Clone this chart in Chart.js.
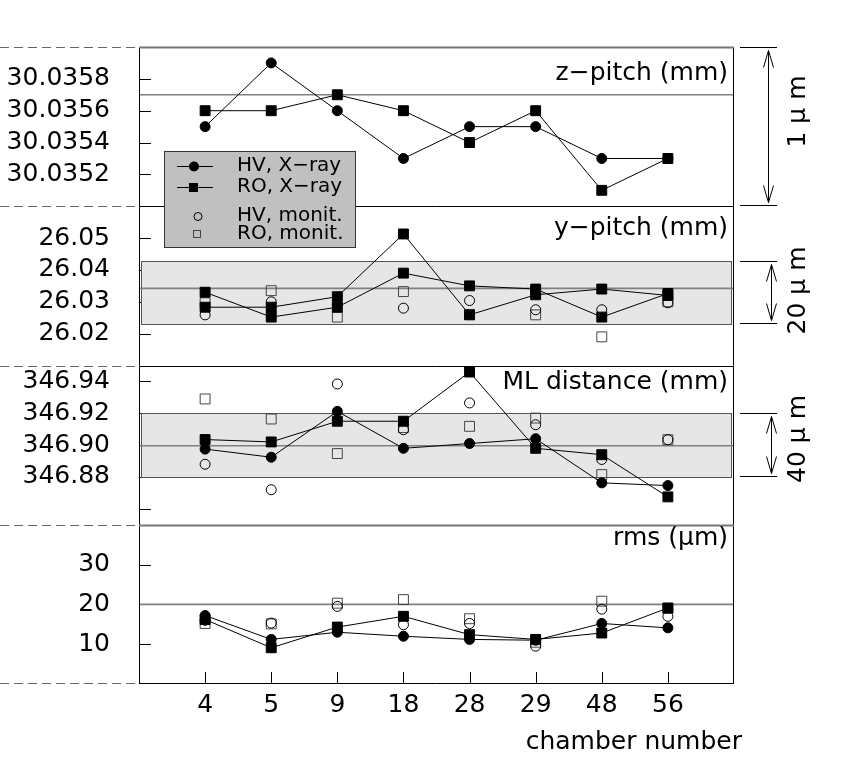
<!DOCTYPE html>
<html>
<head>
<meta charset="utf-8">
<script src="https://cdn.jsdelivr.net/npm/chart.js@4.4.1/dist/chart.umd.min.js"></script>
<style>
  html, body { margin: 0; padding: 0; background: #fff; }
  #wrap { width: 855px; height: 771px; }
</style>
</head>
<body>
<div id="wrap"><canvas id="chart" width="855" height="771"></canvas></div>
<script>
// chamber numbers along the x axis
const chambers = ['4', '5', '9', '18', '28', '29', '48', '56'];

// z-pitch (mm)
const zTicks = [30.0352, 30.0354, 30.0356, 30.0358];
const zTickLabels = ['30.0352', '30.0354', '30.0356', '30.0358'];
const zPitchHV = [30.0355, 30.0359, 30.0356, 30.0353, 30.0355, 30.0355, 30.0353, 30.0353];
const zPitchRO = [30.0356, 30.0356, 30.0357, 30.0356, 30.0354, 30.0356, 30.0351, 30.0353];
const zPitchMean = 30.0357;

// y-pitch (mm)
const yTicks = [26.02, 26.03, 26.04, 26.05];
const yTickLabels = ['26.02', '26.03', '26.04', '26.05'];
const yPitchHV = [26.0330, 26.0252, 26.0283, 26.0390, 26.0350, 26.0340, 26.0252, 26.0326];
const yPitchRO = [26.0283, 26.0283, 26.0316, 26.0513, 26.0259, 26.0322, 26.0340, 26.0320];
const yPitchHVMon = [26.0259, 26.0300, 26.0290, 26.0280, 26.0304, 26.0275, 26.0275, 26.0297];
const yPitchROMon = [26.0297, 26.0335, 26.0252, 26.0332, 26.0260, 26.0259, 26.0190, 26.0300];
const yPitchMean = 26.0342;
const yPitchBand = [26.0230, 26.0428];

// ML distance (mm)
const mlTicks = [346.86, 346.88, 346.90, 346.92, 346.94];
const mlTickLabels = ['', '346.88', '346.90', '346.92', '346.94'];
const mlHV = [346.8975, 346.8924, 346.9212, 346.8980, 346.9010, 346.9040, 346.8763, 346.8746];
const mlRO = [346.9035, 346.9020, 346.9150, 346.9150, 346.9459, 346.8980, 346.8940, 346.8675];
const mlHVMon = [346.8880, 346.8720, 346.9384, 346.9097, 346.9265, 346.9128, 346.8910, 346.9034];
const mlROMon = [346.9290, 346.9164, 346.8947, 346.9110, 346.9118, 346.9170, 346.8815, 346.9034];
const mlMean = 346.8996;
const mlBand = [346.88, 346.92];

// rms (um)
const rmsTicks = [10, 20, 30];
const rmsTickLabels = ['10', '20', '30'];
const rmsHV = [17.2, 11.2, 13.0, 12.0, 11.2, 11.0, 15.2, 14.1];
const rmsRO = [16.2, 9.1, 14.3, 17.0, 12.4, 11.2, 12.8, 19.1];
const rmsHVMon = [16.0, 15.3, 19.5, 14.9, 15.2, 9.5, 18.8, 17.0];
const rmsROMon = [15.2, 15.1, 20.3, 21.2, 16.4, 10.5, 20.8, 19.0];
const rmsMean = 20;

const FONT = 'DejaVu Sans';

// one entry per stacked panel, top to bottom
const panels = [
    {id: 'yZ', min: 30.0350, max: 30.0360, ticks: zTicks, labels: zTickLabels,
     title: 'z\u2212pitch (mm)', titleDy: 26, mean: zPitchMean, band: null,
     span: [30.0350, 30.0360], spanText: '1 \u00b5 m', arrowX: 768, spanDy: -15},
    {id: 'yY', min: 26.010, max: 26.060, ticks: yTicks, labels: yTickLabels,
     title: 'y\u2212pitch (mm)', titleDy: 22, mean: yPitchMean, band: yPitchBand,
     span: yPitchBand, spanText: '20 \u00b5 m', arrowX: 771, spanDy: -2},
    {id: 'yMl', min: 346.85, max: 346.95, ticks: mlTicks, labels: mlTickLabels,
     title: 'ML distance (mm)', titleDy: 17, mean: mlMean, band: mlBand,
     span: mlBand, spanText: '40 \u00b5 m', arrowX: 771, spanDy: -6},
    {id: 'yRms', min: 0, max: 40, ticks: rmsTicks, labels: rmsTickLabels,
     title: 'rms (\u00b5m)', titleDy: 14, mean: rmsMean, band: null,
     span: null, spanText: '', arrowX: 0, spanDy: 0}
];

function pts(arr) {
    return arr.map((v, i) => ({x: i + 1, y: v}));
}

function xray(label, arr, axis, style) {
    return {
        label: label, data: pts(arr), yAxisID: axis, showLine: true,
        borderColor: '#000', borderWidth: 1,
        pointStyle: style, pointRadius: style === 'rect' ? 7 : 5,
        pointBackgroundColor: '#000', pointBorderColor: '#000', pointBorderWidth: 1
    };
}

function monit(label, arr, axis, style) {
    return {
        label: label, data: pts(arr), yAxisID: axis, showLine: false,
        pointStyle: style, pointRadius: style === 'rect' ? 7 : 5,
        pointBackgroundColor: 'rgba(0,0,0,0)',
        pointBorderColor: style === 'rect' ? '#444' : '#000', pointBorderWidth: 1
    };
}

const datasets = [
    xray('HV, X\u2212ray', zPitchHV, 'yZ', 'circle'),
    xray('RO, X\u2212ray', zPitchRO, 'yZ', 'rect'),
    xray('HV, X\u2212ray', yPitchHV, 'yY', 'rect'),
    xray('RO, X\u2212ray', yPitchRO, 'yY', 'rect'),
    xray('HV, X\u2212ray', mlHV, 'yMl', 'circle'),
    xray('RO, X\u2212ray', mlRO, 'yMl', 'rect'),
    xray('HV, X\u2212ray', rmsHV, 'yRms', 'circle'),
    xray('RO, X\u2212ray', rmsRO, 'yRms', 'rect'),
    monit('HV, monit.', yPitchHVMon, 'yY', 'circle'),
    monit('RO, monit.', yPitchROMon, 'yY', 'rect'),
    monit('HV, monit.', mlHVMon, 'yMl', 'circle'),
    monit('RO, monit.', mlROMon, 'yMl', 'rect'),
    monit('HV, monit.', rmsHVMon, 'yRms', 'circle'),
    monit('RO, monit.', rmsROMon, 'yRms', 'rect')
];

function yScale(p) {
    return {
        type: 'linear', position: 'left', stack: 'panels', stackWeight: 1,
        min: p.min, max: p.max,
        grid: {display: false, drawTicks: false},
        border: {display: false},
        afterBuildTicks: s => { s.ticks = p.ticks.map(v => ({value: v})); },
        afterFit: s => { s.width = 139; s.paddingTop = 0; s.paddingBottom = 0; },
        ticks: {
            padding: 29, color: '#000', font: {family: FONT, size: 25},
            autoSkip: false,
            callback: (v, i) => p.labels[i]
        }
    };
}

const scales = {
    x: {
        type: 'linear', position: 'bottom', min: 0, max: 9,
        grid: {display: false, drawTicks: false},
        border: {display: false},
        afterBuildTicks: s => { s.ticks = chambers.map((c, i) => ({value: i + 1})); },
        afterFit: s => { s.height = 87; s.paddingLeft = 0; s.paddingRight = 0; },
        ticks: {
            padding: 6, color: '#000', font: {family: FONT, size: 25},
            maxRotation: 0, autoSkip: false,
            callback: (v, i) => chambers[i]
        }
    }
};
// last defined left axis is stacked on top, so add them bottom-up
panels.slice().reverse().forEach(p => { scales[p.id] = yScale(p); });

function hline(ctx, x0, x1, y) {
    ctx.beginPath(); ctx.moveTo(x0, y); ctx.lineTo(x1, y); ctx.stroke();
}
function vline(ctx, x, y0, y1) {
    ctx.beginPath(); ctx.moveTo(x, y0); ctx.lineTo(x, y1); ctx.stroke();
}

const panelPlugin = {
    id: 'panels',
    beforeDatasetsDraw(chart) {
        const ctx = chart.ctx, a = chart.chartArea;
        ctx.save();
        ctx.lineWidth = 1;
        panels.forEach(p => {
            const s = chart.scales[p.id];
            // inward tick marks
            ctx.strokeStyle = '#000';
            s.ticks.forEach(t => {
                const y = Math.round(s.getPixelForValue(t.value)) + 0.5;
                hline(ctx, a.left, a.left + 12, y);
            });
            // tolerance band
            if (p.band) {
                const yt = Math.round(s.getPixelForValue(p.band[1])) + 0.5;
                const yb = Math.round(s.getPixelForValue(p.band[0])) + 0.5;
                ctx.fillStyle = '#e6e6e6';
                ctx.fillRect(a.left + 2, yt, a.width - 4, yb - yt);
                ctx.strokeStyle = '#555';
                ctx.strokeRect(a.left + 2.5, yt, a.width - 5, yb - yt);
            }
            // mean line
            ctx.strokeStyle = '#808080';
            ctx.lineWidth = 1.6;
            hline(ctx, a.left, a.right, s.getPixelForValue(p.mean));
            ctx.lineWidth = 1;
        });
        // x tick marks
        const xs = chart.scales.x;
        ctx.strokeStyle = '#000';
        xs.ticks.forEach(t => {
            const x = Math.round(xs.getPixelForValue(t.value)) + 0.5;
            vline(ctx, x, a.bottom - 12, a.bottom);
        });
        // frame and separators
        ctx.strokeStyle = '#000';
        vline(ctx, a.left + 0.5, a.top, a.bottom);
        vline(ctx, a.right - 0.5, a.top, a.bottom);
        hline(ctx, a.left, a.right, a.bottom - 0.5);
        panels.forEach((p, i) => {
            const s = chart.scales[p.id];
            if (i === 0 || i === 3) {
                ctx.strokeStyle = '#777'; ctx.lineWidth = 2;
                hline(ctx, a.left, a.right, Math.round(s.top) + 0.5);
            } else {
                ctx.strokeStyle = '#000'; ctx.lineWidth = 1;
                hline(ctx, a.left, a.right, Math.round(s.top) + 0.5);
            }
        });
        ctx.restore();
    },
    afterDatasetsDraw(chart) {
        const ctx = chart.ctx, a = chart.chartArea;
        ctx.save();
        // dashed guides left of the frame
        ctx.strokeStyle = '#666'; ctx.lineWidth = 1.2;
        ctx.setLineDash([9, 5]);
        panels.forEach(p => hline(ctx, 0, a.left, Math.round(chart.scales[p.id].top) + 0.5));
        hline(ctx, 0, a.left, a.bottom - 0.5);
        ctx.setLineDash([]);

        // panel titles
        ctx.fillStyle = '#000';
        ctx.font = '25px "' + FONT + '"';
        ctx.textAlign = 'right'; ctx.textBaseline = 'middle';
        panels.forEach(p => {
            ctx.fillText(p.title, a.right - 6, chart.scales[p.id].top + p.titleDy);
        });

        // right-hand scale brackets
        ctx.strokeStyle = '#000'; ctx.lineWidth = 1;
        panels.forEach(p => {
            if (!p.span) return;
            const s = chart.scales[p.id];
            const yt = Math.round(s.getPixelForValue(p.span[1])) + 0.5;
            const yb = Math.round(s.getPixelForValue(p.span[0])) - 0.5;
            hline(ctx, a.right + 6, a.right + 43, yt);
            hline(ctx, a.right + 6, a.right + 43, yb);
            const x = p.arrowX + 0.5;
            vline(ctx, x, yt + 3, yb - 3);
            ctx.beginPath();
            ctx.moveTo(x - 5, yt + 20); ctx.lineTo(x, yt + 3); ctx.lineTo(x + 5, yt + 20);
            ctx.moveTo(x - 5, yb - 20); ctx.lineTo(x, yb - 3); ctx.lineTo(x + 5, yb - 20);
            ctx.stroke();
            ctx.save();
            ctx.translate(798, (yt + yb) / 2 + p.spanDy);
            ctx.rotate(-Math.PI / 2);
            ctx.textAlign = 'center'; ctx.textBaseline = 'middle';
            ctx.fillText(p.spanText, 0, 0);
            ctx.restore();
        });

        // x axis title
        ctx.textAlign = 'right'; ctx.textBaseline = 'alphabetic';
        ctx.fillText('chamber number', a.right + 8, 749);

        // legend
        const lx = 164, ly = 151, lw = 192, lh = 97;
        ctx.fillStyle = '#c0c0c0';
        ctx.fillRect(lx, ly, lw, lh);
        ctx.strokeStyle = '#333';
        ctx.strokeRect(lx + 0.5, ly + 0.5, lw - 1, lh - 1);
        const rows = [
            {text: 'HV, X\u2212ray', y: 166, kind: 'fc'},
            {text: 'RO, X\u2212ray', y: 187, kind: 'fs'},
            {text: 'HV, monit.', y: 216, kind: 'oc'},
            {text: 'RO, monit.', y: 234, kind: 'os'}
        ];
        ctx.font = '20px "' + FONT + '"';
        ctx.textAlign = 'left'; ctx.textBaseline = 'middle';
        rows.forEach(r => {
            ctx.strokeStyle = '#000'; ctx.fillStyle = '#000';
            if (r.kind === 'fc' || r.kind === 'fs') {
                hline(ctx, 177, 213, r.y + 0.5);
            }
            if (r.kind === 'fc') {
                ctx.beginPath(); ctx.arc(194, r.y + 0.5, 5, 0, Math.PI * 2); ctx.fill();
            } else if (r.kind === 'fs') {
                ctx.fillRect(189, r.y - 4, 9, 9);
            } else if (r.kind === 'oc') {
                ctx.beginPath(); ctx.arc(198, r.y + 0.5, 4, 0, Math.PI * 2); ctx.stroke();
            } else {
                ctx.strokeStyle = '#444';
                ctx.strokeRect(193.5, r.y - 3.5, 7, 7);
            }
            ctx.fillStyle = '#000';
            ctx.fillText(r.text, 237, r.y);
        });
        ctx.restore();
    }
};

new Chart(document.getElementById('chart').getContext('2d'), {
    type: 'scatter',
    data: {datasets: datasets},
    options: {
        responsive: false,
        animation: false,
        layout: {padding: {top: 47, right: 121, bottom: 0, left: 0}},
        plugins: {legend: {display: false}, tooltip: {enabled: false}},
        scales: scales
    },
    plugins: [panelPlugin]
});
</script>
</body>
</html>
